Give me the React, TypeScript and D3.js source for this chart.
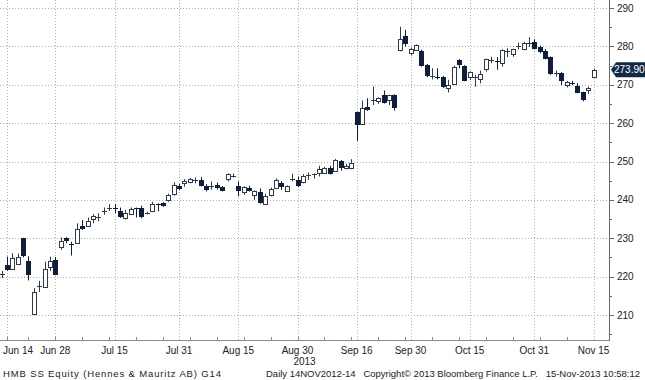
import React from "react";
import * as d3 from "d3";

const dates = [
  "2013-06-13","2013-06-14","2013-06-17","2013-06-18","2013-06-19","2013-06-20","2013-06-24","2013-06-25","2013-06-26","2013-06-27","2013-06-28",
  "2013-07-01","2013-07-02","2013-07-03","2013-07-04","2013-07-05","2013-07-08","2013-07-09","2013-07-10","2013-07-11","2013-07-12",
  "2013-07-15","2013-07-16","2013-07-17","2013-07-18","2013-07-19","2013-07-22","2013-07-23","2013-07-24","2013-07-25","2013-07-26",
  "2013-07-29","2013-07-30","2013-07-31","2013-08-01","2013-08-02","2013-08-05","2013-08-06","2013-08-07","2013-08-08","2013-08-09",
  "2013-08-12","2013-08-13","2013-08-14","2013-08-15","2013-08-16","2013-08-19","2013-08-20","2013-08-21","2013-08-22","2013-08-23",
  "2013-08-26","2013-08-27","2013-08-28","2013-08-29","2013-08-30","2013-09-02","2013-09-03","2013-09-04","2013-09-05","2013-09-06",
  "2013-09-09","2013-09-10","2013-09-11","2013-09-12","2013-09-13","2013-09-16","2013-09-17","2013-09-18","2013-09-19","2013-09-20",
  "2013-09-23","2013-09-24","2013-09-25","2013-09-26","2013-09-27","2013-09-30","2013-10-01","2013-10-02","2013-10-03","2013-10-04",
  "2013-10-07","2013-10-08","2013-10-09","2013-10-10","2013-10-11","2013-10-14","2013-10-15","2013-10-16","2013-10-17","2013-10-18",
  "2013-10-21","2013-10-22","2013-10-23","2013-10-24","2013-10-25","2013-10-28","2013-10-29","2013-10-30","2013-10-31","2013-11-01",
  "2013-11-04","2013-11-05","2013-11-06","2013-11-07","2013-11-08","2013-11-11","2013-11-12","2013-11-13","2013-11-14","2013-11-15",
];

const open = [
  220.6,223.1,222.1,223.3,230.0,224.1,210.2,217.5,217.4,222.6,224.4,
  227.8,230.0,228.6,228.7,233.2,233.1,235.0,235.5,237.1,237.9,
  238.1,237.0,235.2,236.4,237.9,237.8,236.4,237.0,239.0,239.1,
  240.0,241.5,243.5,244.4,244.8,245.1,245.2,243.5,243.5,243.9,
  243.4,245.5,246.2,243.6,241.9,243.2,241.3,242.0,239.1,241.3,
  243.0,244.3,242.4,245.4,245.2,244.8,246.4,246.6,247.0,247.0,
  248.3,247.6,250.2,248.4,248.3,262.8,259.8,264.1,266.0,265.8,
  267.3,265.9,267.2,278.9,282.8,278.2,279.1,278.9,275.2,272.2,
  272.2,272.0,269.1,270.4,276.5,274.9,271.9,272.0,271.4,273.9,
  276.4,276.3,275.5,278.8,277.8,280.0,279.2,280.7,281.2,279.9,
  278.9,277.2,273.0,273.0,270.1,270.5,269.7,268.0,268.6,272.0,
];
const high = [
  221.5,225.2,226.1,226.0,230.1,225.3,217.0,218.9,223.9,225.2,225.1,
  230.2,230.3,229.1,233.9,234.7,235.4,236.3,236.5,238.0,238.9,
  238.9,238.0,237.4,238.0,238.0,238.5,236.9,239.5,239.1,239.4,
  241.6,244.6,244.2,245.4,245.7,245.8,246.0,244.1,244.8,244.5,
  243.6,246.9,246.9,244.8,243.5,243.7,242.5,243.0,241.6,243.2,
  245.6,244.9,243.8,246.8,246.1,246.7,247.1,246.9,248.9,248.6,
  248.9,250.7,250.4,249.4,250.6,263.0,265.9,266.5,269.5,266.7,
  268.5,267.4,267.5,285.1,284.3,279.7,280.5,279.1,275.4,274.3,
  274.3,272.3,271.3,275.0,276.7,275.1,273.5,272.6,273.7,276.8,
  277.3,277.2,279.2,279.5,279.4,281.0,281.2,282.4,281.8,280.2,
  279.3,277.4,273.7,273.3,271.0,271.0,270.4,268.2,269.5,274.2,
];
const low = [
  219.6,221.5,221.7,223.2,225.0,219.0,210.0,216.0,217.2,221.5,220.4,
  227.0,228.7,225.5,228.5,232.2,232.9,233.9,234.4,236.1,237.1,
  236.6,235.3,234.9,236.2,235.4,235.2,236.2,236.8,237.0,238.2,
  239.5,241.1,242.5,243.4,244.3,244.3,243.5,242.2,242.7,242.7,
  242.2,244.8,245.8,240.9,241.3,242.2,240.0,239.0,239.0,240.9,
  242.8,242.6,242.2,244.8,243.3,244.3,245.2,245.5,246.1,246.8,
  246.6,247.4,247.6,247.9,248.0,255.4,259.6,263.2,264.7,265.0,
  265.1,264.7,263.3,278.7,279.9,277.6,279.0,274.7,272.0,271.4,
  271.4,269.1,268.0,270.2,274.3,270.9,271.2,269.5,270.4,273.4,
  275.6,273.9,274.7,277.2,277.3,279.2,279.0,279.9,279.2,278.2,
  276.6,272.6,272.1,269.9,269.3,269.9,267.8,265.7,267.6,271.8,
];
const close = [
  220.8,221.7,224.9,225.2,225.2,220.5,216.0,217.8,222.0,224.2,220.6,
  229.4,229.1,228.4,232.4,232.4,234.5,235.8,235.6,237.3,238.1,
  237.8,235.4,236.5,237.7,237.7,235.4,236.6,238.9,238.8,238.4,
  241.3,243.9,242.7,244.9,245.5,245.3,243.7,242.4,243.7,243.2,
  242.4,246.7,246.4,242.2,243.3,242.3,242.3,239.1,241.1,242.9,
  245.2,243.2,243.6,245.6,243.7,246.3,246.6,246.8,248.0,248.3,
  246.8,250.4,248.3,248.8,249.6,259.3,263.9,263.4,266.3,266.5,
  265.3,267.2,263.9,281.8,280.8,279.2,280.3,274.9,272.3,272.4,
  272.0,269.5,270.0,274.7,275.3,271.1,273.2,272.2,272.8,276.6,
  276.6,276.1,279.0,279.0,279.2,280.2,280.8,280.9,279.5,278.6,
  276.9,272.8,273.3,270.8,270.8,270.3,268.0,265.9,269.2,273.9,
];

const xTickDates = ["2013-06-14","2013-06-28","2013-07-15","2013-07-31","2013-08-15","2013-08-30","2013-09-16","2013-09-30","2013-10-15","2013-10-31","2013-11-15"];
const xTickLabels = ["Jun 14","Jun 28","Jul 15","Jul 31","Aug 15","Aug 30","Sep 16","Sep 30","Oct 15","Oct 31","Nov 15"];
const yTicks = [210, 220, 230, 240, 250, 260, 270, 280, 290];
const yMinorTicks = [205, 215, 225, 235, 245, 255, 265, 275, 285];
const lastPrice = 273.9;
const footerLeft = "HMB SS Equity (Hennes & Mauritz AB) G14";
const footerRight = "Daily 14NOV2012-14   Copyright\u00a9 2013 Bloomberg Finance L.P.   15-Nov-2013 10:58:12";
const yearLabel = "2013";

const W = 645;
const H = 380;
const PLOT_R = 609;
const PLOT_B = 340;
const FONT = "'Liberation Sans', Arial, sans-serif";

export default function App() {
  const x = d3.scaleLinear().domain([0, dates.length - 1]).range([1.5, 593.5]);
  const y = d3.scaleLinear().domain([210, 290]).range([315, 8]);
  const idx = (d: string) => dates.indexOf(d);
  const bear = "#0d1f3d";
  const bullStroke = "#2e3a52";
  const txt = "#222";

  const weekEnds: number[] = [];
  for (let i = 0; i < dates.length - 1; i++) {
    const a = new Date(dates[i] + "T00:00:00Z").getUTCDay();
    const b = new Date(dates[i + 1] + "T00:00:00Z").getUTCDay();
    if (b < a) weekEnds.push(i);
  }

  const candles = dates.map((d, i) => {
    const cx = Math.round(x(i));
    const o = open[i], c = close[i];
    const yH = y(high[i]), yL = y(low[i]);
    const yO = y(o), yC = y(c);
    const top = Math.min(yO, yC), bot = Math.max(yO, yC);
    const up = c >= o;
    const h = bot - top;
    let body;
    if (h < 1.5) {
      const my = Math.round((top + bot) / 2) + 0.5;
      body = <line x1={cx - 2} x2={cx + 3} y1={my} y2={my} stroke={up ? bullStroke : bear} strokeWidth={1} />;
    } else if (up) {
      body = <rect x={cx - 1.5} y={Math.round(top) + 0.5} width={4} height={Math.max(1, Math.round(h))} fill="#ffffff" stroke={bullStroke} strokeWidth={1} />;
    } else {
      body = <rect x={cx - 2} y={Math.round(top)} width={5} height={Math.max(1, Math.round(h))} fill={bear} />;
    }
    return (
      <g key={d}>
        <line x1={cx + 0.5} x2={cx + 0.5} y1={yH} y2={yL} stroke={up ? bullStroke : bear} strokeWidth={1} />
        {body}
      </g>
    );
  });

  const lpY = y(lastPrice);

  return (
    <svg width={W} height={H} style={{ position: "absolute", left: 0, top: 0, background: "#ffffff" }} fontFamily={FONT}>
      <rect x={0} y={0} width={W} height={H} fill="#ffffff" />
      {yTicks.map((t) => (
        <line key={"hg" + t} x1={0} x2={PLOT_R} y1={Math.round(y(t)) + 0.5} y2={Math.round(y(t)) + 0.5} stroke="#b0b0b0" strokeDasharray="1,2" />
      ))}
      {xTickDates.map((d) => (
        <line key={"vg" + d} x1={Math.round(x(idx(d))) + 0.5} x2={Math.round(x(idx(d))) + 0.5} y1={0} y2={PLOT_B} stroke="#b0b0b0" strokeDasharray="1,2" />
      ))}
      {candles}
      <line x1={0} x2={PLOT_R} y1={PLOT_B + 0.5} y2={PLOT_B + 0.5} stroke="#8a8a8a" />
      {weekEnds.map((i) => (
        <line key={"wt" + i} x1={Math.round(x(i)) + 0.5} x2={Math.round(x(i)) + 0.5} y1={PLOT_B} y2={PLOT_B - 3} stroke="#8a8a8a" />
      ))}
      {xTickDates.map((d, k) => {
        const px = x(idx(d));
        const isFirst = k === 0;
        return (
          <text key={"xl" + d} x={isFirst ? 3 : px} y={354} fontSize={10} fill={txt} textAnchor={isFirst ? "start" : "middle"}>
            {xTickLabels[k]}
          </text>
        );
      })}
      <text x={x(idx("2013-08-30")) + 7} y={365} fontSize={10} fill={txt} textAnchor="middle">{yearLabel}</text>
      <line x1={PLOT_R + 0.5} x2={PLOT_R + 0.5} y1={0} y2={PLOT_B + 1} stroke="#6a6a6a" />
      {yMinorTicks.map((t) => (
        <line key={"ym" + t} x1={PLOT_R} x2={PLOT_R + 3} y1={Math.round(y(t)) + 0.5} y2={Math.round(y(t)) + 0.5} stroke="#6a6a6a" />
      ))}
      {yTicks.map((t) => (
        <g key={"yt" + t}>
          <line x1={PLOT_R} x2={PLOT_R + 5} y1={Math.round(y(t)) + 0.5} y2={Math.round(y(t)) + 0.5} stroke="#6a6a6a" />
          <text x={617} y={y(t) + 3.5} fontSize={10} fill={txt}>{t}</text>
        </g>
      ))}
      <path d={`M${PLOT_R + 2},${lpY} L${PLOT_R + 7},${lpY - 7.5} L${W},${lpY - 7.5} L${W},${lpY + 7.5} L${PLOT_R + 7},${lpY + 7.5} Z`} fill="#12284a" />
      <text x={614} y={lpY + 3.5} fontSize={10} fill="#ffffff">{lastPrice.toFixed(2)}</text>
      <text x={3} y={377} fontSize={9.5} fill={txt} textLength={218} lengthAdjust="spacing">{footerLeft}</text>
      <text x={266} y={377} fontSize={9.5} fill={txt} textLength={374} lengthAdjust="spacing" style={{ whiteSpace: "pre" }}>{footerRight}</text>
    </svg>
  );
}
